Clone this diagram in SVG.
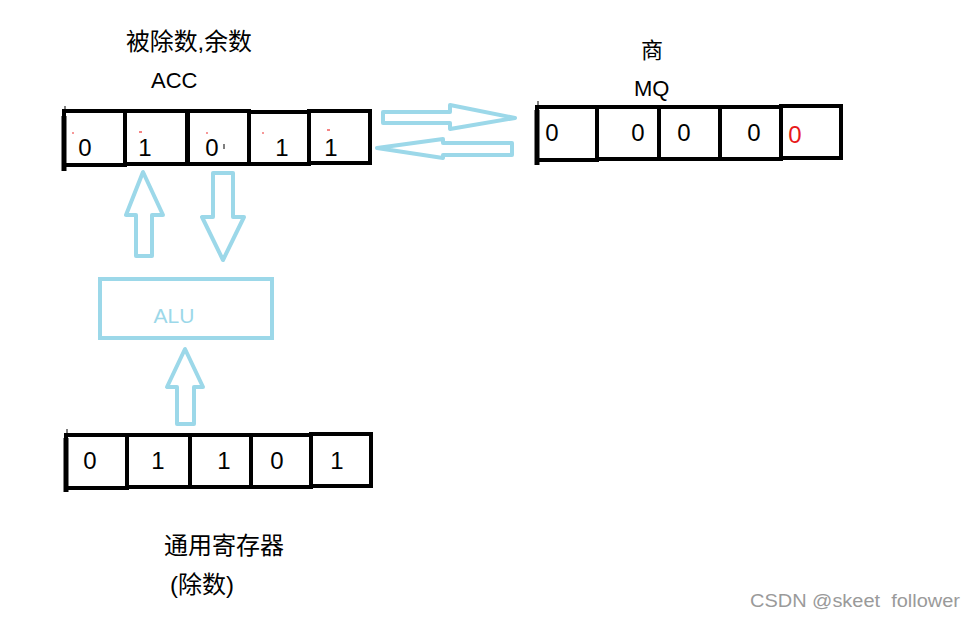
<svg xmlns="http://www.w3.org/2000/svg" width="975" height="617" viewBox="0 0 975 617">
<style>
.cell{fill:#fff;stroke:#000;stroke-width:4}
.lb{stroke:#000;stroke-width:5}
.dg{font-family:"Liberation Sans","Noto Sans",sans-serif;font-size:24px;fill:#000;text-anchor:middle}
.lbl{font-family:"Liberation Sans","Noto Sans CJK SC",sans-serif;font-size:22px;fill:#000}
.cjk{font-family:"Liberation Sans","Noto Sans CJK SC",sans-serif;font-size:24px;fill:#000}
.arr{fill:#fff;stroke:#9CD8E9;stroke-width:4;stroke-linejoin:round}
.mk{stroke:#e33;stroke-width:1.2}
</style>
<rect width="975" height="617" fill="#fff"/>

<g id="acc-label">
<text class="cjk" x="126" y="50" textLength="126" lengthAdjust="spacingAndGlyphs">被除数,余数</text>
<text class="lbl" x="151" y="88">ACC</text>
</g>

<g id="acc">
<rect class="cell" x="64" y="111" width="61" height="54"/>
<rect class="cell" x="125" y="111" width="62" height="53"/>
<rect class="cell" x="188" y="111" width="61" height="53"/>
<rect class="cell" x="249" y="112" width="60" height="52"/>
<rect class="cell" x="309" y="111" width="61" height="52"/>
<line class="lb" x1="64" y1="116" x2="64" y2="171"/>
<line x1="65" y1="106" x2="65" y2="112" stroke="#000" stroke-width="1"/>
<text class="dg" x="85" y="156">0</text>
<text class="dg" x="145" y="156">1</text>
<text class="dg" x="212" y="156">0</text>
<text class="dg" x="282" y="156">1</text>
<text class="dg" x="331" y="156">1</text>
<line x1="224" y1="144" x2="224" y2="149" stroke="#000" stroke-width="1"/>
<line class="mk" x1="72" y1="133" x2="74" y2="133"/>
<line class="mk" x1="139" y1="132" x2="142" y2="132"/>
<line class="mk" x1="206" y1="133" x2="208" y2="133"/>
<line class="mk" x1="262" y1="133" x2="264" y2="133"/>
<line class="mk" x1="327" y1="130" x2="330" y2="130"/>
</g>

<g id="mq-label">
<text class="lbl" x="641" y="58">商</text>
<text class="lbl" x="634" y="96">MQ</text>
</g>

<g id="mq">
<rect class="cell" x="537" y="107" width="60" height="53"/>
<rect class="cell" x="597" y="107" width="62" height="52"/>
<rect class="cell" x="659" y="107" width="61" height="52"/>
<rect class="cell" x="720" y="107" width="61" height="52"/>
<rect class="cell" x="781" y="106" width="60" height="52"/>
<line class="lb" x1="537" y1="110" x2="537" y2="165"/>
<line x1="538" y1="101" x2="538" y2="107" stroke="#000" stroke-width="1"/>
<text class="dg" x="552" y="141">0</text>
<text class="dg" x="638" y="141">0</text>
<text class="dg" x="684" y="141">0</text>
<text class="dg" x="754" y="141">0</text>
<text class="dg" x="795" y="143" style="fill:#e8181a">0</text>
</g>

<g id="reg">
<rect class="cell" x="66" y="435" width="61" height="53"/>
<rect class="cell" x="127" y="435" width="63" height="52"/>
<rect class="cell" x="190" y="435" width="61" height="52"/>
<rect class="cell" x="251" y="435" width="60" height="52"/>
<rect class="cell" x="311" y="434" width="60" height="52"/>
<line class="lb" x1="66" y1="438" x2="66" y2="492"/>
<line x1="67" y1="429" x2="67" y2="435" stroke="#000" stroke-width="1"/>
<text class="dg" x="90" y="469">0</text>
<text class="dg" x="158" y="469">1</text>
<text class="dg" x="224" y="469">1</text>
<text class="dg" x="277" y="469">0</text>
<text class="dg" x="337" y="469">1</text>
</g>

<g id="reg-label">
<text class="cjk" x="164" y="554">通用寄存器</text>
<text class="cjk" x="170" y="593">(除数)</text>
</g>

<g id="alu">
<rect x="100" y="279" width="172" height="59" fill="#fff" stroke="#9CD8E9" stroke-width="4"/>
<text x="174" y="323" font-family="Liberation Sans,sans-serif" font-size="21" fill="#9CD8E9" text-anchor="middle">ALU</text>
</g>

<g id="connectors">
<path class="arr" d="M136,256 L152,256 L152,215 L163,215 L143,172 L126,215 L136,215 Z"/>
<path class="arr" d="M213,173 L233,173 L233,217 L244,217 L223,260 L202,217 L213,217 Z"/>
<path class="arr" d="M177,424 L194,424 L194,387 L203,387 L185,349 L167,387 L177,387 Z"/>
<path class="arr" d="M383,112 L450,112 L450,105 L515,118 L450,129 L450,123 L383,123 Z"/>
<path class="arr" d="M512,143 L443,143 L443,139 L377,148 L443,158 L443,155 L512,155 Z"/>
</g>

<text x="750" y="607" font-family="Liberation Sans,sans-serif" font-size="18" fill="#9a9a9a" xml:space="preserve" textLength="210" lengthAdjust="spacingAndGlyphs">CSDN @skeet  follower</text>
</svg>
